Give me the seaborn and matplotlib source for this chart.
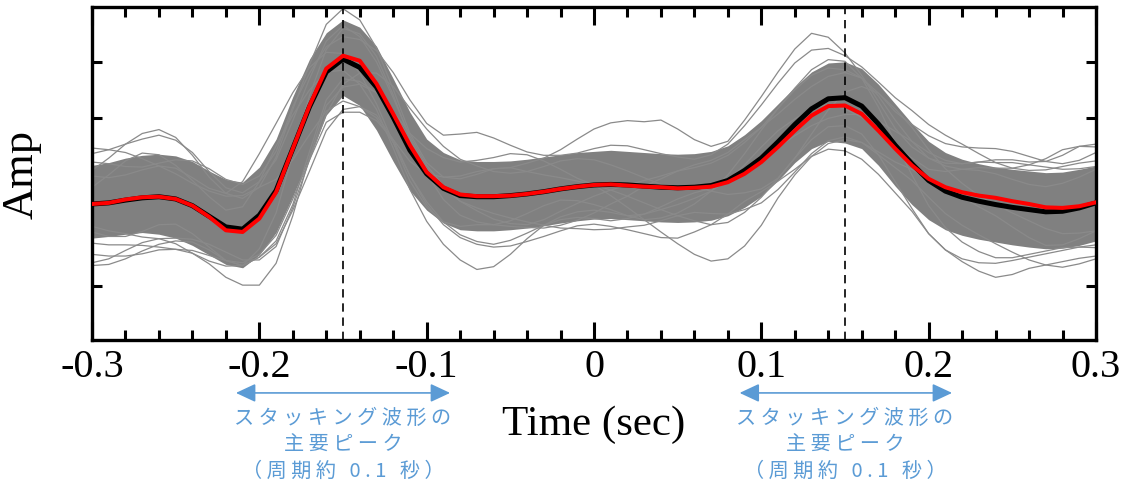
import numpy as np
import pandas as pd
import matplotlib
matplotlib.use('Agg')
import matplotlib.pyplot as plt
from matplotlib.ticker import MultipleLocator
import seaborn as sns

# sample times (sec), 0.01 s step
TIME = [-0.30, -0.29, -0.28, -0.27, -0.26, -0.25, -0.24, -0.23, -0.22, -0.21,
        -0.20, -0.19, -0.18, -0.17, -0.16, -0.15, -0.14, -0.13, -0.12, -0.11,
        -0.10, -0.09, -0.08, -0.07, -0.06, -0.05, -0.04, -0.03, -0.02, -0.01,
        0.00, 0.01, 0.02, 0.03, 0.04, 0.05, 0.06, 0.07, 0.08, 0.09,
        0.10, 0.11, 0.12, 0.13, 0.14, 0.15, 0.16, 0.17, 0.18, 0.19,
        0.20, 0.21, 0.22, 0.23, 0.24, 0.25, 0.26, 0.27, 0.28, 0.29, 0.30]

# black (mean) and red (stacked) waveforms
MEAN_BLACK = [-0.54, -0.52, -0.47, -0.43, -0.41, -0.45, -0.57, -0.76, -0.95, -0.99,
              -0.74, -0.30, 0.45, 1.20, 1.82, 2.05, 1.90, 1.55, 1.01, 0.42,
              0.00, -0.26, -0.39, -0.41, -0.41, -0.39, -0.36, -0.32, -0.27, -0.23,
              -0.20, -0.19, -0.20, -0.22, -0.24, -0.25, -0.24, -0.21, -0.12, 0.06,
              0.28, 0.57, 0.88, 1.16, 1.34, 1.36, 1.21, 0.89, 0.51, 0.18,
              -0.12, -0.31, -0.42, -0.49, -0.55, -0.60, -0.64, -0.68, -0.67, -0.61, -0.52]
STACK_RED = [-0.54, -0.52, -0.46, -0.42, -0.41, -0.45, -0.57, -0.77, -1.01, -1.04,
             -0.80, -0.33, 0.45, 1.22, 1.88, 2.11, 2.02, 1.61, 1.07, 0.51,
             0.03, -0.24, -0.37, -0.40, -0.40, -0.39, -0.36, -0.32, -0.27, -0.23,
             -0.20, -0.19, -0.21, -0.23, -0.24, -0.26, -0.25, -0.23, -0.15, 0.00,
             0.21, 0.48, 0.77, 1.04, 1.21, 1.22, 1.07, 0.77, 0.45, 0.15,
             -0.09, -0.24, -0.33, -0.39, -0.43, -0.49, -0.54, -0.60, -0.61, -0.58, -0.51]

# dense core of the individual traces (upper / lower edge)
CORE_HI = [0.15, 0.20, 0.28, 0.33, 0.35, 0.32, 0.22, 0.05, -0.10, -0.15,
           0.12, 0.62, 1.38, 2.05, 2.52, 2.75, 2.62, 2.28, 1.70, 1.10,
           0.62, 0.38, 0.25, 0.22, 0.22, 0.23, 0.26, 0.30, 0.34, 0.38,
           0.40, 0.42, 0.40, 0.38, 0.36, 0.35, 0.36, 0.40, 0.50, 0.70,
           0.95, 1.25, 1.55, 1.82, 1.98, 2.00, 1.88, 1.60, 1.25, 0.90,
           0.58, 0.38, 0.26, 0.18, 0.12, 0.08, 0.05, 0.02, 0.03, 0.08, 0.14]
CORE_LO = [-1.15, -1.12, -1.08, -1.05, -1.08, -1.15, -1.28, -1.45, -1.62, -1.68,
           -1.45, -1.05, -0.40, 0.30, 1.05, 1.40, 1.22, 0.78, 0.22, -0.30,
           -0.65, -0.88, -1.00, -1.02, -1.02, -1.00, -0.97, -0.93, -0.88, -0.84,
           -0.81, -0.80, -0.82, -0.84, -0.86, -0.87, -0.86, -0.83, -0.75, -0.60,
           -0.40, -0.12, 0.20, 0.45, 0.58, 0.55, 0.45, 0.15, -0.22, -0.55,
           -0.82, -1.00, -1.10, -1.17, -1.22, -1.27, -1.31, -1.34, -1.33, -1.28, -1.20]

# individual traces that stand out of the core
TRACE_01 = [0.36, 0.43, 0.53, 0.62, 0.69, 0.60, 0.38, 0.04, -0.25, -0.34,
            -0.14, 0.25, 0.95, 1.70, 2.37, 2.65, 2.45, 2.00, 1.36, 0.67,
            0.15, -0.21, -0.49, -0.66, -0.81, -0.89, -0.91, -0.82, -0.67, -0.53,
            -0.40, -0.29, -0.20, -0.12, -0.04, 0.05, 0.11, 0.19, 0.33, 0.56,
            0.83, 1.17, 1.50, 1.76, 1.89, 1.86, 1.71, 1.44, 1.11, 0.88,
            0.68, 0.54, 0.48, 0.46, 0.45, 0.40, 0.31, 0.22, 0.18, 0.24, 0.38]
TRACE_02 = [-1.44, -1.47, -1.47, -1.43, -1.36, -1.35, -1.42, -1.61, -1.85, -1.99,
            -1.99, -1.60, -0.75, 0.30, 1.22, 1.55, 1.60, 1.45, 1.11, 0.62,
            0.10, -0.26, -0.49, -0.61, -0.71, -0.79, -0.86, -0.92, -0.97, -0.98,
            -1.00, -0.99, -0.95, -0.92, -0.84, -0.75, -0.69, -0.71, -0.72, -0.64,
            -0.52, -0.28, 0.03, 0.36, 0.59, 0.66, 0.56, 0.34, 0.11, -0.12,
            -0.42, -0.71, -0.92, -1.09, -1.25, -1.40, -1.54, -1.63, -1.67, -1.61, -1.52]
TRACE_03 = [0.06, 0.28, 0.53, 0.72, 0.79, 0.65, 0.33, -0.06, -0.35, -0.44,
            -0.24, 0.30, 1.15, 1.95, 2.67, 2.95, 2.75, 2.25, 1.51, 0.72,
            0.20, -0.06, -0.09, -0.01, 0.09, 0.11, 0.04, -0.02, -0.07, -0.13,
            -0.20, -0.29, -0.40, -0.52, -0.64, -0.75, -0.84, -0.91, -0.87, -0.69,
            -0.42, -0.08, 0.28, 0.61, 0.84, 0.86, 0.71, 0.34, -0.14, -0.62,
            -1.07, -1.36, -1.52, -1.59, -1.60, -1.55, -1.49, -1.43, -1.37, -1.31, -1.27]
TRACE_04 = [-1.24, -1.27, -1.27, -1.28, -1.31, -1.35, -1.37, -1.46, -1.55, -1.59,
            -1.44, -1.10, -0.45, 0.25, 0.92, 1.10, 1.10, 0.95, 0.61, 0.22,
            0.00, -0.06, -0.04, 0.04, 0.09, 0.11, 0.19, 0.28, 0.43, 0.62,
            0.80, 0.91, 0.95, 0.93, 0.96, 0.80, 0.61, 0.49, 0.58, 0.96,
            1.38, 1.82, 2.23, 2.51, 2.44, 2.16, 1.76, 1.29, 0.81, 0.48,
            0.28, 0.19, 0.18, 0.21, 0.20, 0.20, 0.16, 0.12, 0.08, 0.09, 0.13]
TRACE_05 = [-0.24, -0.02, 0.23, 0.37, 0.34, 0.15, -0.12, -0.41, -0.65, -0.59,
            -0.14, 0.50, 1.05, 1.50, 1.82, 1.85, 1.60, 1.15, 0.46, -0.28,
            -0.85, -1.26, -1.54, -1.71, -1.66, -1.44, -1.16, -0.92, -0.77, -0.68,
            -0.65, -0.69, -0.75, -0.72, -0.64, -0.55, -0.44, -0.31, -0.12, 0.16,
            0.48, 0.77, 0.98, 1.16, 1.24, 1.16, 1.01, 0.79, 0.51, 0.28,
            0.08, 0.04, 0.08, 0.11, 0.10, 0.10, 0.16, 0.27, 0.43, 0.49, 0.48]
TRACE_06 = [-1.04, -1.12, -1.12, -1.03, -0.91, -0.90, -1.07, -1.31, -1.55, -1.64,
            -1.49, -1.20, -0.55, 0.40, 1.32, 1.70, 1.65, 1.45, 1.11, 0.72,
            0.45, 0.29, 0.21, 0.24, 0.29, 0.36, 0.34, 0.23, 0.08, -0.08,
            -0.20, -0.39, -0.60, -0.82, -1.04, -1.25, -1.44, -1.56, -1.52, -1.29,
            -0.92, -0.43, -0.02, 0.31, 0.54, 0.61, 0.56, 0.39, 0.21, 0.08,
            -0.12, -0.26, -0.42, -0.59, -0.75, -0.95, -1.14, -1.28, -1.27, -1.16, -1.02]
TRACE_07 = [0.21, 0.18, 0.13, 0.12, 0.19, 0.25, 0.23, 0.09, -0.10, -0.19,
            -0.04, 0.40, 1.20, 1.80, 2.27, 2.45, 2.40, 2.20, 1.81, 1.32,
            0.90, 0.69, 0.71, 0.74, 0.64, 0.51, 0.39, 0.33, 0.33, 0.37,
            0.45, 0.51, 0.50, 0.43, 0.36, 0.30, 0.26, 0.34, 0.53, 0.86,
            1.23, 1.62, 1.98, 2.21, 2.24, 2.11, 1.91, 1.64, 1.36, 1.13,
            0.88, 0.69, 0.53, 0.36, 0.20, 0.10, 0.06, 0.07, 0.13, 0.19, 0.23]
TRACE_08 = [-1.59, -1.52, -1.37, -1.23, -1.16, -1.25, -1.42, -1.56, -1.65, -1.64,
            -1.49, -1.25, -0.65, 0.05, 0.77, 1.15, 1.20, 1.05, 0.61, -0.03,
            -0.55, -0.91, -1.14, -1.26, -1.31, -1.29, -1.21, -1.12, -1.02, -0.93,
            -0.90, -0.94, -1.00, -1.07, -1.14, -1.15, -1.04, -0.91, -0.72, -0.49,
            -0.32, -0.13, 0.08, 0.31, 0.44, 0.41, 0.26, -0.01, -0.34, -0.67,
            -1.07, -1.36, -1.57, -1.74, -1.85, -1.80, -1.69, -1.63, -1.57, -1.51, -1.47]
TRACE_09 = [-0.04, -0.07, -0.02, 0.07, 0.14, 0.10, -0.07, -0.26, -0.35, -0.14,
            0.36, 0.90, 1.45, 1.90, 2.17, 2.15, 1.80, 1.25, 0.56, -0.13,
            -0.60, -0.86, -0.94, -0.91, -0.91, -0.94, -0.96, -0.97, -0.92, -0.83,
            -0.70, -0.54, -0.40, -0.22, -0.09, 0.05, 0.16, 0.24, 0.38, 0.61,
            0.83, 1.07, 1.33, 1.56, 1.74, 1.81, 1.71, 1.39, 0.96, 0.58,
            0.28, 0.14, 0.08, 0.06, 0.00, -0.10, -0.19, -0.23, -0.17, -0.06, 0.08]
TRACE_10 = [-0.94, -1.02, -1.07, -1.13, -1.16, -1.15, -1.17, -1.26, -1.40, -1.54,
            -1.54, -1.30, -0.60, 0.25, 1.07, 1.60, 1.80, 1.80, 1.56, 1.17,
            0.80, 0.49, 0.26, 0.14, 0.04, 0.01, 0.04, 0.13, 0.23, 0.27,
            0.25, 0.16, 0.05, -0.07, -0.19, -0.25, -0.24, -0.31, -0.37, -0.34,
            -0.27, -0.08, 0.28, 0.71, 1.14, 1.46, 1.56, 1.44, 1.16, 0.83,
            0.43, 0.09, -0.17, -0.39, -0.55, -0.70, -0.84, -0.98, -1.07, -1.06, -1.02]
TRACE_11 = [0.46, 0.43, 0.38, 0.27, 0.14, 0.00, -0.17, -0.31, -0.40, -0.39,
            -0.24, -0.10, 0.25, 0.70, 1.12, 1.30, 1.20, 1.00, 0.56, -0.03,
            -0.50, -0.86, -1.09, -1.21, -1.26, -1.19, -1.06, -0.92, -0.82, -0.78,
            -0.80, -0.84, -0.80, -0.72, -0.59, -0.45, -0.34, -0.26, -0.12, 0.06,
            0.23, 0.47, 0.68, 0.86, 0.99, 1.06, 1.06, 0.94, 0.76, 0.58,
            0.38, 0.24, 0.18, 0.21, 0.25, 0.25, 0.21, 0.22, 0.33, 0.49, 0.53]
TRACE_12 = [-1.64, -1.62, -1.52, -1.38, -1.26, -1.20, -1.22, -1.36, -1.55, -1.64,
            -1.34, -0.70, 0.35, 1.40, 2.22, 2.60, 2.50, 2.10, 1.41, 0.62,
            0.00, -0.46, -0.74, -0.86, -0.91, -0.84, -0.71, -0.57, -0.47, -0.48,
            -0.55, -0.64, -0.75, -0.82, -0.79, -0.70, -0.54, -0.31, -0.02, 0.36,
            0.78, 1.17, 1.53, 1.86, 2.04, 2.01, 1.71, 1.19, 0.56, -0.02,
            -0.57, -0.96, -1.22, -1.39, -1.50, -1.50, -1.44, -1.38, -1.32, -1.31, -1.32]
GRAY_TRACES = [TRACE_01, TRACE_02, TRACE_03, TRACE_04, TRACE_05, TRACE_06,
               TRACE_07, TRACE_08, TRACE_09, TRACE_10, TRACE_11, TRACE_12]

PEAKS = [-0.15, 0.15]
ARROW_SPANS = [(-0.214, -0.086), (0.087, 0.214)]
X_TICKS = [-0.3, -0.2, -0.1, 0.0, 0.1, 0.2, 0.3]
X_TICK_LABELS = ['-0.3', '-0.2', '-0.1', '0', '0.1', '0.2', '0.3']
NOTE_LINES = ['スタッキング波形の', '主要ピーク', '（周期約 0.1 秒）']

BLUE = '#5B9BD5'
SERIF = 'Liberation Serif'
JP = ['Noto Sans CJK JP', 'DejaVu Sans']

sns.set_style('ticks')
plt.rcParams['font.family'] = [SERIF, 'DejaVu Sans']
plt.rcParams.update({'text.color': 'black', 'axes.labelcolor': 'black',
                     'xtick.color': 'black', 'ytick.color': 'black'})

fig = plt.figure(figsize=(11.25, 4.89), dpi=100)
ax = fig.add_axes([0.0818, 0.3027, 0.8924, 0.6809])

# gray individual traces
rows = []
for k, tr in enumerate(GRAY_TRACES):
    for t, v in zip(TIME, tr):
        rows.append((k, t, v))
df = pd.DataFrame(rows, columns=['trace', 'time', 'amp'])

ax.fill_between(TIME, CORE_LO, CORE_HI, color='#808080', lw=0, zorder=1)
sns.lineplot(data=df, x='time', y='amp', units='trace', estimator=None,
             color='#8a8a8a', lw=0.9, ax=ax, legend=False, zorder=2)

for p in PEAKS:
    ax.axvline(p, color='black', lw=1.2, ls=(0, (5, 3.5)), zorder=3)

sns.lineplot(x=TIME, y=MEAN_BLACK, estimator=None, color='black', lw=3.6, ax=ax, zorder=4)
sns.lineplot(x=TIME, y=STACK_RED, estimator=None, color='#ff0000', lw=2.9, ax=ax, zorder=5)

ax.set_xlim(-0.3, 0.3)
ax.set_ylim(-2.97, 2.98)
ax.set_xticks(X_TICKS)
ax.set_xticklabels(X_TICK_LABELS)
ax.xaxis.set_minor_locator(MultipleLocator(0.02))
ax.yaxis.set_major_locator(MultipleLocator(5))
ax.yaxis.set_minor_locator(MultipleLocator(1))
ax.set_yticklabels([])
ax.tick_params(which='both', direction='in', top=True, right=True, color='black',
               labelcolor='black')
ax.tick_params(which='major', length=13, width=2.2, labelsize=29, pad=6)
ax.tick_params(which='minor', length=7, width=2.2)
for s in ax.spines.values():
    s.set_linewidth(2.4)
    s.set_color('black')

ax.set_xlabel('Time (sec)', fontsize=31, labelpad=14, color='black')
ax.set_ylabel('Amp', fontsize=32, labelpad=30, color='black')

# blue arrows + notes under the two peaks
tr = ax.get_xaxis_transform()
for p, (x0, x1) in zip(PEAKS, ARROW_SPANS):
    ax.annotate('', xy=(x1, -0.159), xytext=(x0, -0.159), xycoords=tr, textcoords=tr,
                arrowprops=dict(arrowstyle='<|-|>,head_length=0.6,head_width=0.28',
                                mutation_scale=20, color=BLUE, lw=1.2,
                                shrinkA=0, shrinkB=0), annotation_clip=False)
    for i, line in enumerate(NOTE_LINES):
        ax.text(p, -0.231 - 0.081 * i, ' '.join(line), transform=tr, ha='center',
                va='center', fontsize=14.5, color=BLUE, family=JP, clip_on=False)

fig.savefig('out.png', dpi=100)
